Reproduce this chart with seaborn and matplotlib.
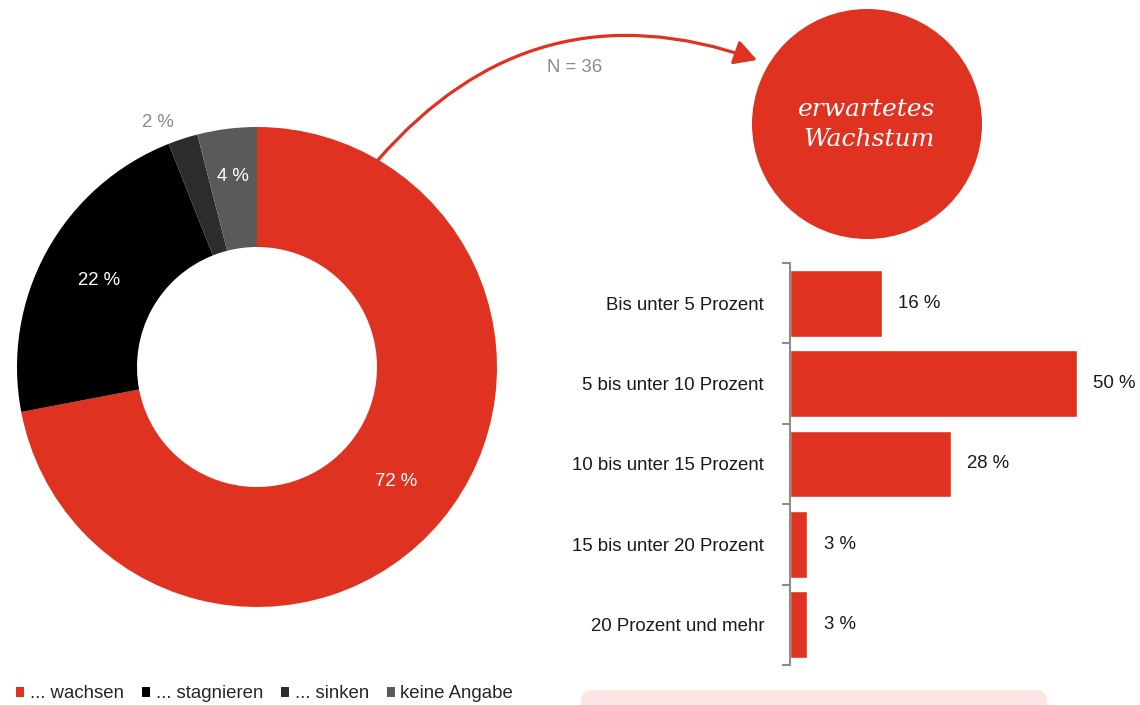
import numpy as np
import matplotlib
matplotlib.use("Agg")
import matplotlib.pyplot as plt
from matplotlib.patches import Circle, FancyArrowPatch, FancyBboxPatch, Patch
import seaborn as sns

# donut data
outlook_labels = ["... wachsen", "... stagnieren", "... sinken", "keine Angabe"]
outlook_share = [72, 22, 2, 4]
outlook_colors = ["#DF3220", "#000000", "#2C2C2C", "#5A5A5A"]

# bar data
growth_cats = ["Bis unter 5 Prozent", "5 bis unter 10 Prozent", "10 bis unter 15 Prozent",
               "15 bis unter 20 Prozent", "20 Prozent und mehr"]
growth_share = [16, 50, 28, 3, 3]

RED = "#DF3220"
GREY_TXT = "#8A8A8A"

sns.set_theme(style="white")
plt.rcParams["font.family"] = ["Liberation Sans", "DejaVu Sans"]
FS = 13.4

W, H = 1140, 705
fig = plt.figure(figsize=(W / 100, H / 100), dpi=100)

# donut chart
cx, cy, r = 257, 367, 240
axp = fig.add_axes([(cx - r) / W, (H - cy - r) / H, 2 * r / W, 2 * r / H])
wedges, _ = axp.pie(outlook_share, colors=outlook_colors, startangle=90, counterclock=False,
                    radius=1, wedgeprops=dict(width=0.5, linewidth=0))
axp.set_xlim(-1, 1)
axp.set_ylim(-1, 1)
axp.set_aspect("equal")
axp.axis("off")

label_r = [0.75, 0.75, 1.1, 0.8]
label_c = ["white", "white", GREY_TXT, "white"]
angle_fix = [0, 0, 4, 0]
for w, v, lr, lc, fx in zip(wedges, outlook_share, label_r, label_c, angle_fix):
    a = np.deg2rad((w.theta1 + w.theta2) / 2 + fx)
    axp.text(lr * np.cos(a), lr * np.sin(a), f"{v} %", color=lc, fontsize=FS,
             ha="center", va="center")

# bar chart
axb = fig.add_axes([790 / W, (H - 665) / H, 344 / W, 402 / H])
sns.barplot(x=growth_share, y=growth_cats, orient="h", color=RED, saturation=1,
            width=0.83, ax=axb)
axb.set_xlim(0, 60)
axb.set_ylim(len(growth_cats) - 0.5, -0.5)
axb.bar_label(axb.containers[0], labels=[f"{v} %" for v in growth_share],
              padding=12, fontsize=FS, color="#1A1A1A")
for s in ["top", "right", "bottom"]:
    axb.spines[s].set_visible(False)
axb.spines["left"].set_color("#8C8C8C")
axb.spines["left"].set_linewidth(1.5)
axb.set_xticks([])
axb.set_yticks(np.arange(-0.5, len(growth_cats)), minor=True)
axb.tick_params(axis="y", which="major", length=0, pad=18.7, labelsize=FS, labelcolor="#1A1A1A")
axb.tick_params(axis="y", which="minor", left=True, length=6, width=1.5, color="#8C8C8C")
axb.set_xlabel("")
axb.set_ylabel("")

# overlay: circle, arrow, notes, legend
ov = fig.add_axes([0, 0, 1, 1], zorder=5)
ov.set_xlim(0, W)
ov.set_ylim(H, 0)
ov.axis("off")
ov.patch.set_alpha(0)

ov.add_patch(Circle((867, 124), 115, color=RED, lw=0))
ov.text(867, 109, "erwartetes", ha="center", va="center", color="white", fontsize=18,
        family="DejaVu Serif", style="italic")
ov.text(869, 140, "Wachstum", ha="center", va="center", color="white", fontsize=18,
        family="DejaVu Serif", style="italic")

arrow = FancyArrowPatch((378, 160), (757, 60), connectionstyle="arc3,rad=-0.34",
                        arrowstyle="-|>,head_length=0.9,head_width=0.5", mutation_scale=15,
                        color=RED, lw=2.3, shrinkA=0, shrinkB=0)
ov.add_patch(arrow)
ov.text(575, 68, "N = 36", ha="center", va="center", color=GREY_TXT, fontsize=FS)

ov.add_patch(FancyBboxPatch((581, 690), 466, 40, boxstyle="round,pad=0,rounding_size=12",
                            color="#FBE5E3", lw=0))

handles = [Patch(facecolor=c, edgecolor="none") for c in outlook_colors]
fig.legend(handles, outlook_labels, loc="center left", bbox_to_anchor=(16 / W, (H - 694) / H),
           ncol=4, frameon=False, fontsize=FS, handlelength=0.45, handleheight=0.45,
           handletextpad=0.3, columnspacing=0.95, borderpad=0, borderaxespad=0)

fig.savefig("out.png", dpi=100)
